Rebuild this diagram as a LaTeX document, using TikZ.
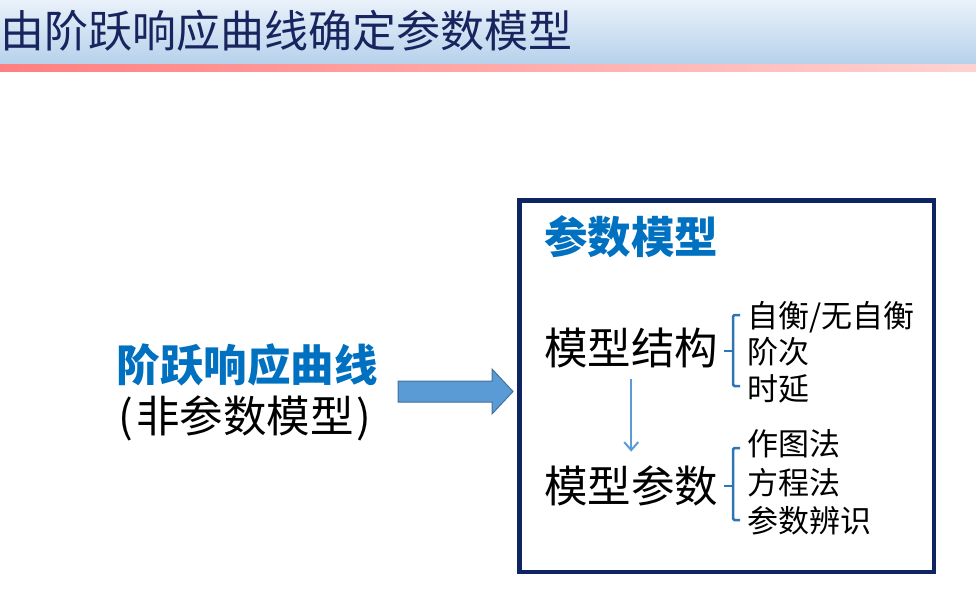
\documentclass[tikz,border=0pt]{standalone}
\usepackage{fontspec}
\setmainfont{Noto Sans CJK SC}
\usetikzlibrary{calc,arrows.meta}
\definecolor{navy}{HTML}{0E2463}
\definecolor{tblue}{HTML}{0070C0}
\definecolor{bblue}{HTML}{2E75B6}
\definecolor{ablue}{HTML}{5B9BD5}
\definecolor{aedge}{HTML}{41719C}
\definecolor{ttl}{HTML}{17245E}
\definecolor{hdtop}{HTML}{EAF1FA}
\definecolor{hdbot}{HTML}{B5D1EB}
\definecolor{redl}{HTML}{FF7F7F}
\definecolor{redr}{HTML}{FFD2D2}
\begin{document}
\begin{tikzpicture}[x=1pt,y=-1pt,
  txt/.style={inner sep=0pt, anchor=west},
  big/.style={txt, font=\fontsize{43.5}{45}\selectfont},
  bigc/.style={inner sep=0pt, font=\fontsize{43.5}{45}\selectfont},
  item/.style={txt, font=\fontsize{31}{33}\selectfont},
  bracket/.style={draw=bblue, line width=2.5pt, rounded corners=1.5pt},
  flow/.style={draw=ablue, line width=2pt, -{Straight Barb[length=8pt,width=14pt,line width=2pt]}}
]
\useasboundingbox (0,0) rectangle (976,591);
% header
\shade[top color=hdtop, bottom color=hdbot] (0,0) rectangle (976,65);
\shade[left color=redl, right color=redr] (0,65) rectangle (976,72);
\node[txt, font=\fontsize{44}{46}\selectfont, text=ttl] (title) at (0,31) {由阶跃响应曲线确定参数模型};

% left text
\node[bigc, font=\fontsize{43.5}{45}\selectfont\bfseries, text=tblue] (step) at (247,365) {阶跃响应曲线};
\node[bigc] (nonp) at (245,418) {(\hspace{3pt}非参数模型\hspace{3pt})};

% big arrow
\draw[fill=ablue, draw=aedge, line width=1pt]
  (398,381) -- (492,381) -- (492,369) -- (513,391.5) -- (492,414) -- (492,402) -- (398,402) -- cycle;

% box
\node[draw=navy, line width=4.5pt, minimum width=414.5pt, minimum height=371.5pt, inner sep=0pt] (box) at (726.75,386.25) {};

\node[txt, font=\fontsize{43.5}{45}\selectfont\bfseries, text=tblue] (pm) at (544,237) {参数模型};
\node[big] (s1) at (544,348) {模型结构};
\node[big] (s2) at (544,486) {模型参数};

\node[item] (a1) at (747,317) {自衡/无自衡};
\node[item] (a2) at (747,352) {阶次};
\node[item] (a3) at (747,389) {时延};
\node[item] (b1) at (747,444) {作图法};
\node[item] (b2) at (747,483) {方程法};
\node[item] (b3) at (747,521) {参数辨识};

% brackets
\draw[bracket] (740,315) -- (733,315) -- (733,386) -- (740,386);
\draw[bracket] (733,351) -- (724,351);
\draw[bracket] (740,448) -- (733,448) -- (733,520) -- (740,520);
\draw[bracket] (733,486) -- (724,486);

% down arrow
\draw[flow, shorten <=11pt, shorten >=14pt] (s1.south) -- (s2.north);
\end{tikzpicture}
\end{document}
